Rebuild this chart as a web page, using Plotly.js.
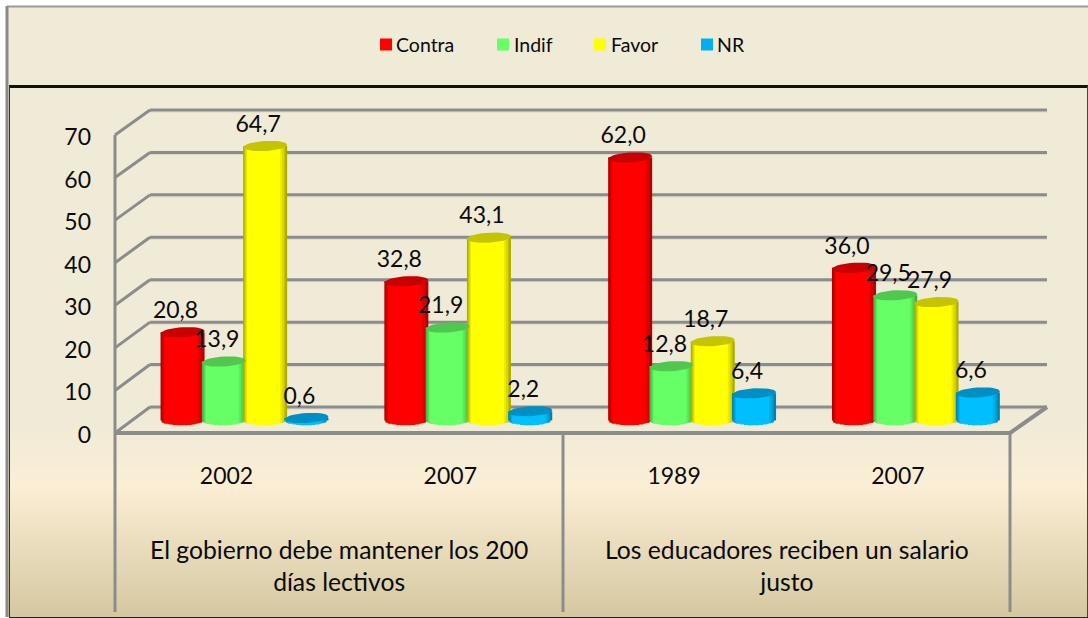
<!DOCTYPE html>
<html><head><meta charset="utf-8">
<script src="https://cdn.plot.ly/plotly-3.0.1.min.js"></script>
<style>
html,body{margin:0;padding:0;background:#fff;width:1088px;height:618px;overflow:hidden}
#bg{position:absolute;left:7px;top:6px;width:1081px;height:611px;
background:linear-gradient(to bottom,#f0ebd7 0px,#f0ebd7 420px,#fbeed5 480px,#d5c8a0 611px)}
#chart{position:absolute;left:0;top:0;width:1088px;height:618px}
</style></head><body><div id="bg"></div><div id="chart"></div>
<script>
// ---- data ----
const groupLabels = ['2002','2007','1989','2007'];
const questions = ['El gobierno debe mantener los 200<br>días lectivos','Los educadores reciben un salario<br>justo'];
const contra = [20.8,32.8,62.0,36.0];
const indif  = [13.9,21.9,12.8,29.5];
const favor  = [64.7,43.1,18.7,27.9];
const nr     = [0.6,2.2,6.4,6.6];
const ticks  = [0,10,20,30,40,50,60,70];
const seriesNames = ['Contra','Indif','Favor','NR'];
const seriesValues = [contra,indif,favor,nr];
const bodyColors = ['#ff0000','#66ff66','#ffff00','#00bfff'];
const capColors  = ['#c80000','#50c850','#c4c400','#008fc4'];
const legendColors = ['#ff0000','#66ff66','#ffff00','#00b0f0'];

// ---- geometry of the pseudo-3D frame (pixels) ----
const W=1088,H=618, plotTop=95, plotBottom=436;
const pxPerGroup=223.8, firstGroupPx=244.5, seriesStep=41.3, barW=44, capRy=5;
const pxPerVal=4.243, zeroPx=420.5;
const frontZero=433, frontTop=135, backZero=407, backTop=110, tickLabelZero=435;
const frontScale=(frontZero-frontTop)/70, backScale=(backZero-backTop)/70;
const FONT='Lato, sans-serif';
const INK='#0a0a0a';
const GRID='#8c8c8c';
const px=x=>x/W, py=y=>(plotBottom-y)/(plotBottom-plotTop);
function mix(hex,k){const n=parseInt(hex.slice(1),16);
  const f=c=>Math.round(c*(1-k));
  return `rgb(${f(n>>16&255)},${f(n>>8&255)},${f(n&255)})`;}

const steps=[[0,0,.32],[1,2,.24],[2,3,.16],[3,5,.08],[4,7,0],[8,9,0],[12,13,0],[16,17,0]];
const gx=groupLabels.map((_,i)=>i);
const traces=[];
seriesValues.forEach((vals,s)=>{
  const off=(s-1.5)*seriesStep;
  steps.forEach(([l,r,d])=>{
    const u=Math.min(1,1-(l+r)/2/(barW/2));
    const depth=capRy*Math.sqrt(Math.max(0,1-u*u))/pxPerVal;
    traces.push({type:'bar',x:gx,y:vals.map(v=>v+depth),base:vals.map(()=>-depth),
      width:(barW-l-r)/pxPerGroup,offset:(off-barW/2+l)/pxPerGroup,
      marker:{color:mix(bodyColors[s],d),line:{width:0}},showlegend:false,hoverinfo:'skip',name:seriesNames[s]});
  });
});
seriesValues.forEach((vals,s)=>{
  const off=(s-1.5)*seriesStep, X=[],Y=[];
  vals.forEach((v,g)=>{
    for(let a=0;a<=36;a++){const t=a/36*2*Math.PI, dx=barW/2*Math.cos(t), dy=capRy*Math.sin(t)+dx*2.5/barW;
      X.push(g+(off+dx)/pxPerGroup);Y.push(v+dy/pxPerVal);}
    X.push(null);Y.push(null);
  });
  traces.push({type:'scatter',mode:'lines',x:X,y:Y,fill:'toself',fillcolor:capColors[s],line:{width:0,color:capColors[s]},showlegend:false,hoverinfo:'skip'});
});
seriesValues.forEach((vals,s)=>{
  const off=(s-1.5)*seriesStep;
  traces.push({type:'scatter',mode:'text',x:gx.map(g=>g+(off-7)/pxPerGroup),y:vals.map(v=>v+20/pxPerVal),
    text:vals.map(v=>v.toFixed(1).replace('.',',')),textposition:'middle center',
    textfont:{family:FONT,size:23,color:INK},cliponaxis:false,showlegend:false,hoverinfo:'skip'});
});
traces.push({type:'scatter',mode:'none',x:[0],y:[0],yaxis:'y2',showlegend:false,hoverinfo:'skip'});

const line=(x0,y0,x1,y1,color,width)=>({type:'line',xref:'paper',yref:'paper',x0:px(x0),y0:py(y0),x1:px(x1),y1:py(y1),layer:'below',line:{color,width}});
const shapes=[];
// frame
shapes.push(line(7,6.5,1088,6.5,'#9a9a9a',2));
shapes.push(line(7,6,7,617,'#8a8a8a',3));
shapes.push(line(9,86.5,1088,86.5,'#111',3));
shapes.push(line(9.5,86,9.5,617,'#333',1));
shapes.push(line(1087.5,86,1087.5,617,'#444',1));
shapes.push(line(9,617.5,1088,617.5,'#222',1));
// walls
ticks.forEach(t=>{
  const yf=frontZero-t*frontScale, yb=backZero-t*backScale;
  shapes.push(line(150,yb+2,1047,yb+2,'#dcd8c6',1));
  shapes.push(line(150,yb,1047,yb,GRID,3));
  shapes.push(line(115,yf,150,yb,GRID,3));
});
shapes.push(line(1010,frontZero,1047,backZero,GRID,4));
shapes.push(line(115,frontTop,115,612,GRID,3));
shapes.push(line(563,frontZero,563,612,GRID,3));
shapes.push(line(1010,frontZero,1010,612,GRID,3));
shapes.push(line(115,frontZero,1010,frontZero,GRID,4));

const annotations=[];
const qCenters=[(115+563)/2,(563+1010)/2];
questions.forEach((q,i)=>annotations.push({xref:'paper',yref:'paper',x:px(qCenters[i]),y:py(565),xanchor:'center',yanchor:'middle',
  text:q,showarrow:false,align:'center',font:{family:FONT,size:24.7,color:INK}}));
// legend
const legSwatch=[380,497,594,701], legText=[396,514,611,717];
seriesNames.forEach((n,i)=>{
  shapes.push({type:'rect',xref:'paper',yref:'paper',x0:px(legSwatch[i]),x1:px(legSwatch[i]+12),y0:py(50.5),y1:py(38.5),fillcolor:legendColors[i],line:{width:0}});
  annotations.push({xref:'paper',yref:'paper',x:px(legText[i]),y:py(44.5),xanchor:'left',yanchor:'middle',text:n,showarrow:false,font:{family:FONT,size:19.5,color:INK},borderpad:0,xshift:-1});
});

const layout={width:W,height:H,margin:{l:0,r:0,t:plotTop,b:H-plotBottom,pad:0},
  paper_bgcolor:'rgba(0,0,0,0)',plot_bgcolor:'rgba(0,0,0,0)',barmode:'overlay',showlegend:false,
  xaxis:{range:[-firstGroupPx/pxPerGroup,(W-firstGroupPx)/pxPerGroup],tickvals:gx.map(g=>g-18/pxPerGroup),ticktext:groupLabels,showgrid:false,zeroline:false,showline:false,
    ticks:'outside',ticklen:19,tickcolor:'rgba(0,0,0,0)',tickfont:{family:FONT,size:23,color:INK}},
  yaxis:{range:[-(plotBottom-zeroPx)/pxPerVal,(zeroPx-plotTop)/pxPerVal],visible:false,showgrid:false,zeroline:false},
  yaxis2:{overlaying:'y',anchor:'free',position:px(91),side:'left',range:[-(plotBottom-tickLabelZero)/frontScale,(tickLabelZero-plotTop)/frontScale],tickvals:ticks,ticks:'',showgrid:false,zeroline:false,showline:false,
    tickfont:{family:FONT,size:23,color:INK}},
  shapes,annotations,font:{family:FONT}};
Plotly.newPlot('chart',traces,layout,{staticPlot:true,displayModeBar:false});
</script></body></html>
